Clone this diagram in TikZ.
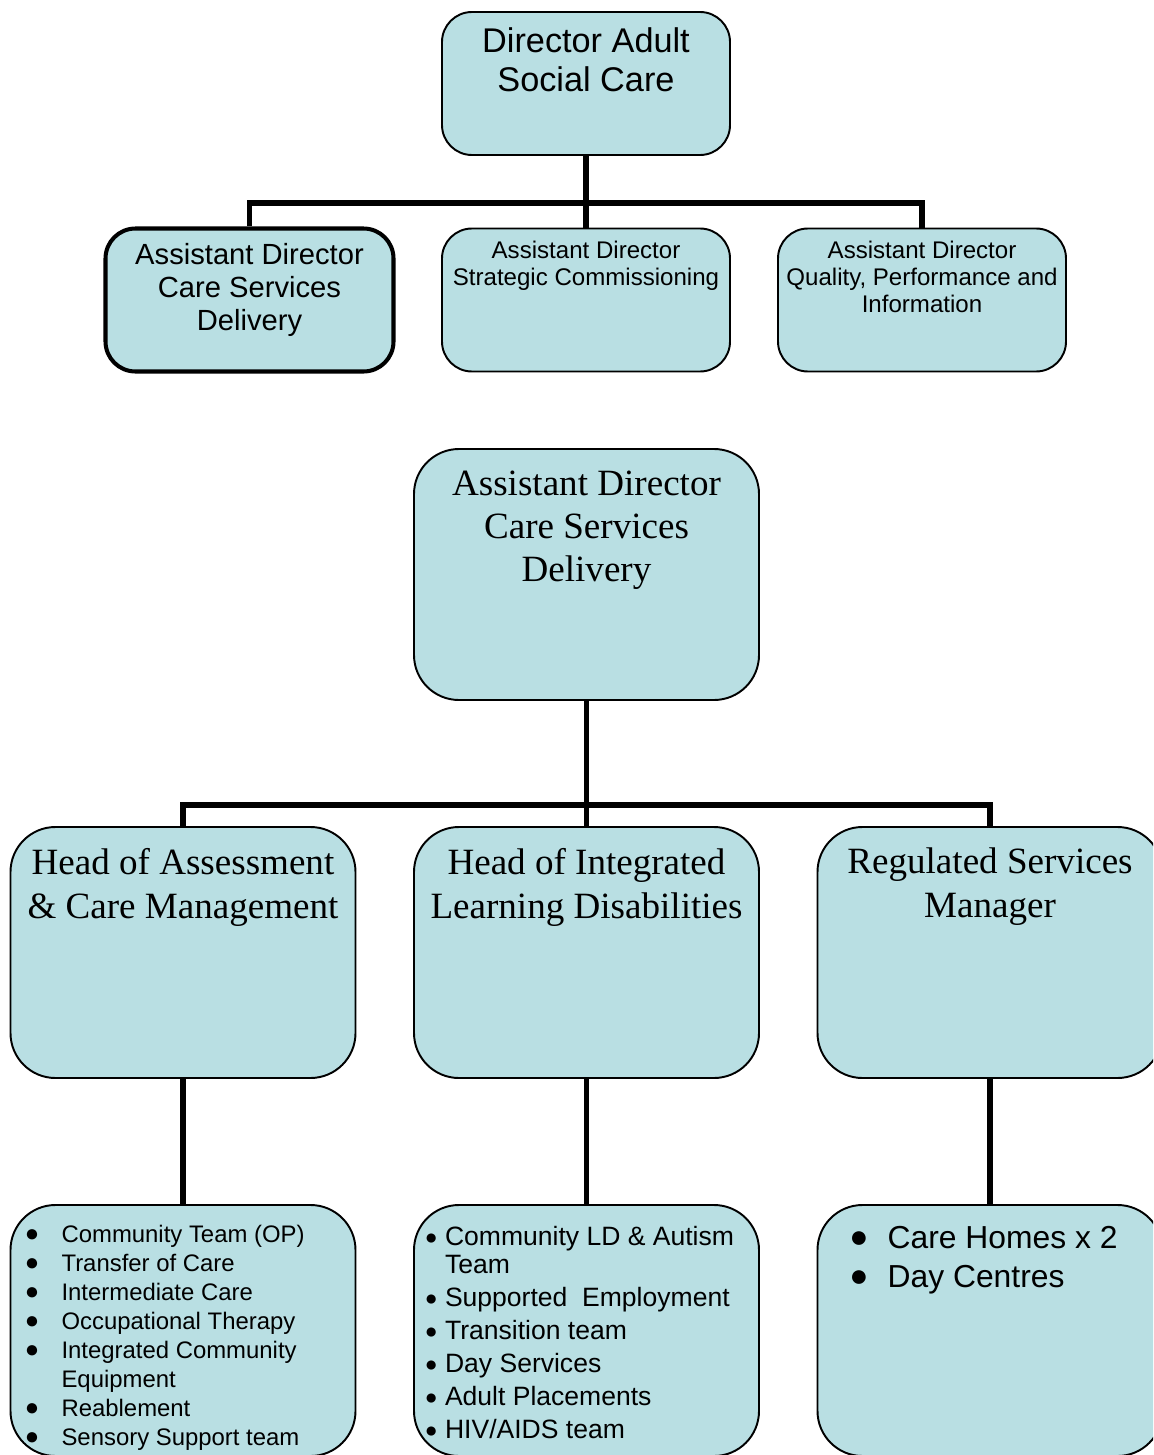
\documentclass[tikz,border=0pt]{standalone}
\usepackage{fontspec}
\setmainfont{Liberation Serif}
\setsansfont{Liberation Sans}
\usetikzlibrary{positioning}
\definecolor{boxblue}{RGB}{185,223,227}
\newcommand{\bul}[2][1]{\makebox[#2][l]{\raisebox{0.03em}{\scalebox{#1}{●}}}}

\begin{document}
\begin{tikzpicture}[
  box/.style={draw, fill=boxblue, line width=1.1pt, inner sep=0pt},
  smallbox/.style={box, rounded corners=0.6cm, minimum width=5.76cm, minimum height=2.86cm},
  bigbox/.style={box, rounded corners=0.9cm, minimum width=6.9cm, minimum height=5.02cm},
  link/.style={line width=3pt},
  txt/.style={inner sep=0pt, align=center},
  listtxt/.style={inner sep=0pt, align=left}
]
\useasboundingbox (0,0) rectangle (23.06,-29.1);
\clip (0,0) rectangle (23.06,-29.1);

\node [smallbox] (dasc) at (11.72,-1.67) {};
\node [txt, font=\sffamily\fontsize{19.5}{21.9}\selectfont, below=9.3pt of dasc.north] {Director Adult\\Social Care};

\node [smallbox, line width=2.3pt] (adcsd) at (4.99,-6) {};
\node [smallbox] (adsc) at (11.72,-6) {};
\node [smallbox] (adqpi) at (18.44,-6) {};
\node [txt, font=\sffamily\fontsize{16.6}{19}\selectfont, below=9.2pt of adcsd.north] {Assistant Director\\Care Services\\Delivery};
\node [txt, font=\sffamily\fontsize{13.7}{15.5}\selectfont, below=7.3pt of adsc.north] {Assistant Director\\Strategic Commissioning};
\node [txt, font=\sffamily\fontsize{13.7}{15.5}\selectfont, below=7.3pt of adqpi.north] {Assistant Director\\Quality, Performance and\\Information};

\coordinate (bus1) at (11.72,-4.06);
\draw [link] (dasc.south) -- (bus1);
\draw [link] (adcsd.north) |- (bus1) -| (adqpi.north);
\draw [link] (bus1) -- (adsc.north);

\node [bigbox] (adcsdtop) at (11.73,-11.49) {};
\node [txt, font=\fontsize{21.1}{24.5}\selectfont, below=13pt of adcsdtop.north] {Assistant Director\\Care Services\\Delivery};

\node [bigbox] (hacm) at (3.66,-19.05) {};
\node [bigbox] (hild) at (11.73,-19.05) {};
\node [bigbox] (rsm) at (19.8,-19.05) {};
\node [txt, font=\fontsize{21.1}{25}\selectfont, below=12.3pt of hacm.north] {Head of Assessment\\\& Care Management};
\node [txt, font=\fontsize{21.1}{25}\selectfont, below=12.3pt of hild.north] {Head of Integrated\\Learning Disabilities};
\node [txt, font=\fontsize{21.1}{25}\selectfont, below=12.3pt of rsm.north] {Regulated Services\\Manager};

\coordinate (bus2) at (11.73,-16.1);
\draw [link] (adcsdtop.south) -- (bus2);
\draw [link] (hacm.north) |- (bus2) -| (rsm.north);
\draw [link] (bus2) -- (hild.north);

\node [bigbox] (acmlist) at (3.66,-26.61) {};
\node [bigbox] (ildlist) at (11.73,-26.61) {};
\node [bigbox] (rsmlist) at (19.8,-26.61) {};
\draw [link] (hacm.south) -- (acmlist.north);
\draw [link] (hild.south) -- (ildlist.north);
\draw [link] (rsm.south) -- (rsmlist.north);

\node [listtxt, font=\sffamily\fontsize{13.6}{16.5}\selectfont, below right=11.6pt and 8.5pt of acmlist.north west] {\bul{20.9pt}Community Team (OP)\\
\bul{20.9pt}Transfer of Care\\
\bul{20.9pt}Intermediate Care\\
\bul{20.9pt}Occupational Therapy\\
\bul{20.9pt}Integrated Community\\
\makebox[20.9pt]{}Equipment\\
\bul{20.9pt}Reablement\\
\bul{20.9pt}Sensory Support team};
\node [listtxt, font=\sffamily\fontsize{15.1}{16.4}\selectfont, below right=12.2pt and 6.6pt of ildlist.north west] {\bul[0.8]{11.4pt}Community LD \& Autism\\
\makebox[11.4pt]{}Team\\[2.3pt]
\bul[0.8]{11.4pt}Supported~ Employment\\[2.3pt]
\bul[0.8]{11.4pt}Transition team\\[2.3pt]
\bul[0.8]{11.4pt}Day Services\\[2.3pt]
\bul[0.8]{11.4pt}Adult Placements\\[2.3pt]
\bul[0.8]{11.4pt}HIV/AIDS team};
\node [listtxt, font=\sffamily\fontsize{18.1}{22.1}\selectfont, below right=12.3pt and 18.5pt of rsmlist.north west] {\bul{21.8pt}Care Homes x 2\\
\bul{21.8pt}Day Centres};
\end{tikzpicture}
\end{document}
